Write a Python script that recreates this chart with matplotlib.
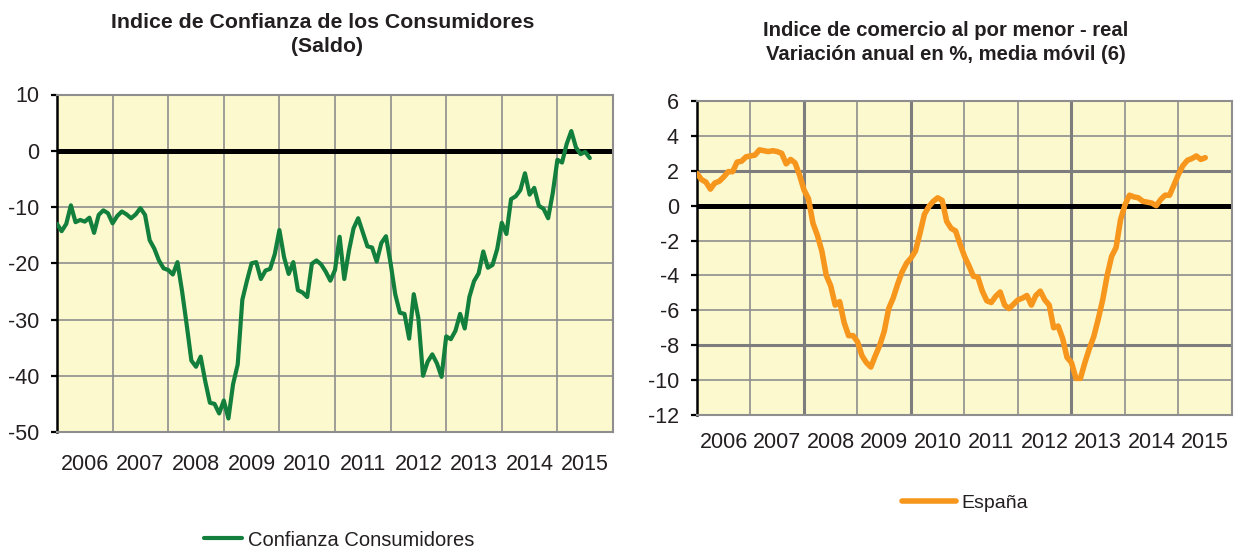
import matplotlib
matplotlib.use("Agg")
import matplotlib.pyplot as plt
import numpy as np

# year labels (placed in the middle of each year)
years = [str(y) for y in range(2006, 2016)]

# Indice de Confianza de los Consumidores, monthly from Jan 2006
confianza = [
    -13.0, -14.3, -13.0, -9.7, -12.7, -12.3, -12.6, -11.9, -14.6, -11.4, -10.6, -11.1,
    -12.9, -11.6, -10.8, -11.3, -12.0, -11.3, -10.2, -11.4, -15.9, -17.4, -19.5, -20.9,
    -21.2, -22.0, -19.8, -25.0, -31.0, -37.3, -38.4, -36.6, -41.0, -44.8, -45.0, -46.7,
    -44.4, -47.6, -41.5, -38.0, -26.5, -23.1, -20.0, -19.8, -22.8, -21.3, -21.0, -18.4,
    -14.1, -18.9, -21.9, -19.8, -24.8, -25.2, -26.0, -20.1, -19.5, -20.2, -21.5, -23.1,
    -21.2, -15.3, -22.8, -17.8, -13.8, -12.0, -14.5, -17.0, -17.2, -19.7, -16.4, -15.2,
    -20.0, -25.5, -28.8, -29.0, -33.4, -25.5, -29.8, -40.0, -37.5, -36.2, -37.8, -40.2,
    -33.0, -33.5, -32.0, -29.0, -31.6, -26.0, -23.2, -21.8, -17.9, -20.8, -20.3, -17.5,
    -12.8, -14.8, -8.6, -8.1, -7.0, -4.0, -7.8, -6.6, -9.8, -10.3, -12.0, -7.5,
    -1.6, -2.1, 1.2, 3.5, 0.6, -0.6, -0.2, -1.3,
]

# Indice de comercio al por menor - real, Espana, monthly from Jan 2006
espana = [
    1.85, 1.5, 1.35, 0.95, 1.3, 1.4, 1.65, 1.95, 1.95, 2.5, 2.55, 2.8,
    2.85, 2.9, 3.2, 3.15, 3.1, 3.15, 3.1, 3.0, 2.4, 2.65, 2.45, 1.75,
    0.9, 0.4, -1.0, -1.7, -2.6, -4.0, -4.6, -5.7, -5.5, -6.7, -7.45, -7.45,
    -7.8, -8.6, -9.0, -9.25, -8.6, -8.0, -7.2, -5.9, -5.3, -4.5, -3.8, -3.3,
    -3.0, -2.6, -1.6, -0.5, -0.05, 0.25, 0.45, 0.3, -0.9, -1.3, -1.45, -2.2,
    -2.9, -3.45, -4.05, -4.1, -4.9, -5.45, -5.55, -5.2, -4.95, -5.7, -5.9, -5.65,
    -5.4, -5.3, -5.15, -5.7, -5.15, -4.9, -5.4, -5.7, -7.0, -6.9, -7.6, -8.7,
    -9.0, -9.9, -9.9, -9.0, -8.2, -7.5, -6.5, -5.4, -4.0, -2.9, -2.4, -0.8,
    0.05, 0.6, 0.5, 0.45, 0.25, 0.2, 0.15, 0.0, 0.35, 0.6, 0.6, 1.2,
    1.8, 2.3, 2.6, 2.7, 2.85, 2.65, 2.75,
]

plt.rcParams['font.family'] = ['Liberation Sans', 'DejaVu Sans']
plt.rcParams['axes.unicode_minus'] = False
txt = '#231f20'
bg = '#fcf9cf'
gridc = '#8e8e8e'

fig = plt.figure(figsize=(12.34, 5.5), dpi=100)


def style(ax, ylo, yhi, ystep, xpad):
    ax.set_facecolor(bg)
    ax.set_xlim(2006, 2016)
    ax.set_ylim(ylo, yhi)
    ax.set_yticks(np.arange(ylo, yhi + 1, ystep))
    ax.set_xticks(np.arange(2006.5, 2016), labels=years)
    ax.set_xticks(np.arange(2007, 2016), minor=True)
    ax.grid(which='minor', axis='x', color=gridc, lw=1.2)
    ax.grid(which='major', axis='y', color=gridc, lw=1.2)
    ax.set_axisbelow(True)
    ax.tick_params(axis='x', which='both', length=0, pad=xpad, labelsize=15.5, labelcolor=txt)
    ax.tick_params(axis='y', direction='out', length=4, width=1.6, color='black',
                   pad=9, labelsize=15.5, labelcolor=txt)
    for s in ['top', 'right', 'bottom']:
        ax.spines[s].set_color(gridc)
        ax.spines[s].set_linewidth(1.5)
    ax.spines['left'].set_color('black')
    ax.spines['left'].set_linewidth(1.8)
    ax.axhline(0, color='black', lw=3.6, zorder=2)


# left chart
ax1 = fig.add_axes([57 / 1234, 1 - 432 / 550, 556 / 1234, 337.5 / 550])
style(ax1, -50, 10, 10, 16)
x1 = 2006 + np.arange(len(confianza)) / 12
line1, = ax1.plot(x1, confianza, color='#12803c', lw=3.0, zorder=3,
                  solid_capstyle='round', solid_joinstyle='round',
                  label='Confianza Consumidores')
fig.text(323 / 1234, 1 - 23 / 550, 'Indice de Confianza de los Consumidores',
         ha='center', va='center', fontsize=15.3, fontweight='bold', color=txt)
fig.text(327 / 1234, 1 - 46 / 550, '(Saldo)',
         ha='center', va='center', fontsize=15.3, fontweight='bold', color=txt)
fig.legend(handles=[line1], loc='center', bbox_to_anchor=(339 / 1234, 1 - 540 / 550),
           frameon=False, fontsize=14.5, handlelength=1.9, handletextpad=0.3,
           borderpad=0, labelcolor=txt)

# right chart
ax2 = fig.add_axes([697 / 1234, 1 - 415 / 550, 535 / 1234, 314 / 550])
style(ax2, -12, 6, 2, 12)
# a few darker grid lines as in the original
for xv in [2008, 2010, 2013]:
    ax2.axvline(xv, color='#7d7d7d', lw=2.2, zorder=1)
for yv in [2, -8]:
    ax2.axhline(yv, color='#7d7d7d', lw=2.2, zorder=1)
x2 = 2006 + np.arange(len(espana)) / 12
line2, = ax2.plot(x2, espana, color='#f7961d', lw=4.0, zorder=3,
                  solid_capstyle='round', solid_joinstyle='round', label='España')
fig.text(946 / 1234, 1 - 31 / 550, 'Indice de comercio al por menor - real',
         ha='center', va='center', fontsize=14.6, fontweight='bold', color=txt)
fig.text(946 / 1234, 1 - 54 / 550, 'Variación anual en %, media móvil (6)',
         ha='center', va='center', fontsize=14.6, fontweight='bold', color=txt)
fig.legend(handles=[line2], loc='center', bbox_to_anchor=(965 / 1234, 1 - 503 / 550),
           frameon=False, fontsize=14, handlelength=2.8, handletextpad=0.3,
           borderpad=0, labelcolor=txt)

fig.savefig('out.png', dpi=100)
